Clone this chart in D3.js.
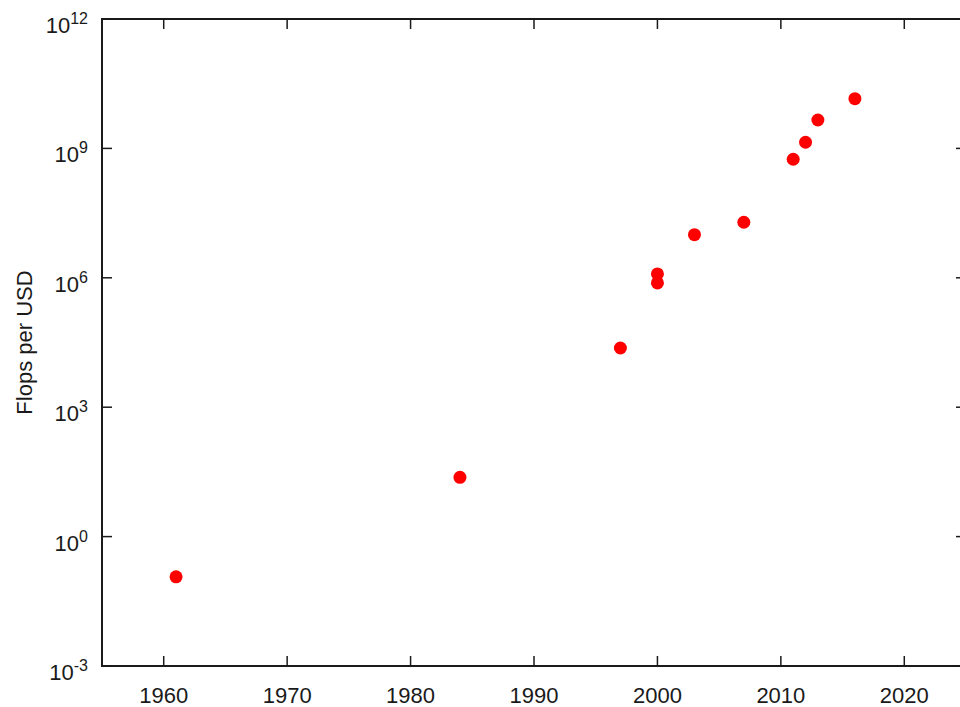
<!DOCTYPE html>
<html>
<head>
<meta charset="utf-8">
<script src="https://cdn.jsdelivr.net/npm/d3@7"></script>
<style>
	body { margin: 0; background: #fff; overflow: hidden; }
	svg { display: block; font-family: "Liberation Sans", Arial, sans-serif; }
</style>
</head>
<body>
<div id="chart"></div>
<script>
var years = [1961, 1984, 1997, 2000, 2000, 2003, 2007, 2011, 2012, 2013, 2016];
var flopsPerUsd = [0.117, 23.7, 2.36e4, 1.23e6, 7.6e5, 1.0e7, 1.94e7, 5.6e8, 1.39e9, 4.56e9, 1.42e10];

var xTicks = [1960, 1970, 1980, 1990, 2000, 2010, 2020];
var yExponents = [-3, 0, 3, 6, 9, 12];

var width = 960,
	height = 707;
var padding = {left: 102, right: -6, top: 19, bottom: 41};

var svg = d3.select("#chart")
		.append("svg")
		.attr("width", width)
		.attr("height", height)

var xScale = d3.scaleLinear()
		.domain([1955, 2025])
		.range([padding.left, width - padding.right])

var yScale = d3.scaleLog()
		.domain([1e-3, 1e12])
		.range([height - padding.bottom, padding.top])

var x0 = xScale.range()[0], x1 = xScale.range()[1];
var y0 = yScale.range()[0], y1 = yScale.range()[1];
var tickLen = 10;
var ink = '#1a1a1a';

// frame
svg.append('rect')
	.attr('x', x0)
	.attr('y', y1)
	.attr('width', x1 - x0)
	.attr('height', y0 - y1)
	.attr('fill', 'none')
	.attr('stroke', ink)
	.attr('stroke-width', 2)

// x ticks, bottom and top, pointing inward
var xt = svg.append('g').selectAll('g')
		.data(xTicks)
		.enter()
		.append('g')
		.attr('transform', d => `translate(${xScale(d)}, 0)`)

xt.append('line')
	.attr('y1', y0).attr('y2', y0 - tickLen)
	.attr('stroke', ink).attr('stroke-width', 1.5)
xt.append('line')
	.attr('y1', y1).attr('y2', y1 + tickLen)
	.attr('stroke', ink).attr('stroke-width', 1.5)
xt.append('text')
	.attr('y', y0 + 37)
	.attr('text-anchor', 'middle')
	.attr('font-size', 22)
	.attr('fill', ink)
	.text(d => d)

// y ticks, left and right
var yt = svg.append('g').selectAll('g')
		.data(yExponents)
		.enter()
		.append('g')
		.attr('transform', d => `translate(0, ${yScale(Math.pow(10, d))})`)

yt.append('line')
	.attr('x1', x0).attr('x2', x0 + tickLen)
	.attr('stroke', ink).attr('stroke-width', 1.5)
yt.append('line')
	.attr('x1', x1).attr('x2', x1 - tickLen)
	.attr('stroke', ink).attr('stroke-width', 1.5)

var yLabel = yt.append('text')
	.attr('x', x0 - 14)
	.attr('y', 14)
	.attr('text-anchor', 'end')
	.attr('fill', ink)
	.attr('font-size', 22)
yLabel.append('tspan').text('10')
yLabel.append('tspan')
	.attr('dy', -9)
	.attr('font-size', 16)
	.text(d => d < 0 ? '-' + Math.abs(d) : d)

svg.append('text')
	.attr('transform', `translate(32, ${(y0 + y1) / 2}) rotate(-90)`)
	.attr('text-anchor', 'middle')
	.attr('font-size', 22)
	.attr('fill', ink)
	.text('Flops per USD')

// points
svg.append('g').selectAll('circle')
	.data(years)
	.enter()
	.append('circle')
	.attr('cx', d => xScale(d))
	.attr('cy', (d, i) => yScale(flopsPerUsd[i]))
	.attr('r', 6.5)
	.attr('fill', '#ff0000')
</script>
</body>
</html>
